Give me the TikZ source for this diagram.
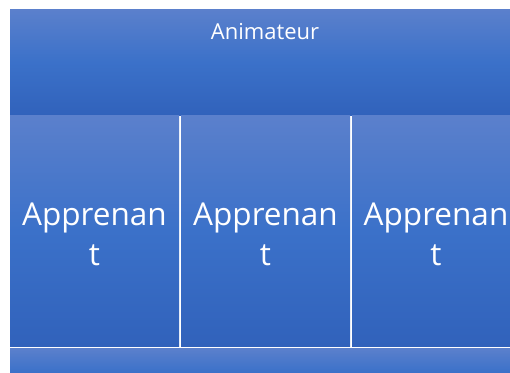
\documentclass[tikz,border=0pt]{standalone}
\usepackage{fontspec}
\setmainfont{Open Sans}
\definecolor{gtop}{HTML}{5B80CC}
\definecolor{gmid}{HTML}{3B71C9}
\definecolor{gbot}{HTML}{3162BB}
\tikzset{
  panel/.style={top color=gtop, bottom color=gbot, middle color=gmid, draw=none, shading=axis},
  lbl/.style={text=white, align=center, inner sep=0pt},
}
\begin{document}
\begin{tikzpicture}[x=1pt,y=1pt]
\useasboundingbox (0,0) rectangle (510,372);
\begin{scope}
\clip (0,0) rectangle (510,372);
\fill[white] (0,0) rectangle (510,372);
\node[panel, minimum width=510pt, minimum height=106pt, anchor=north west, inner sep=0pt] (top) at (10,363) {};
\node[panel, minimum width=169pt, minimum height=231pt, anchor=north west, inner sep=0pt] (c1) at (10,257) {};
\node[panel, minimum width=169pt, minimum height=231pt, anchor=north west, inner sep=0pt] (c2) at (181,257) {};
\node[panel, minimum width=168pt, minimum height=231pt, anchor=north west, inner sep=0pt] (c3) at (352,257) {};
\node[panel, minimum width=510pt, minimum height=48pt, anchor=north west, inner sep=0pt] (bot) at (10,24) {};
\end{scope}
\node[lbl, font=\fontsize{22}{26}\selectfont, anchor=base] (t) at (265,332) {Animateur};
\node[lbl, font=\fontsize{31.5}{40}\selectfont, anchor=base] (a1) at (94.5,107) {Apprenan\\t};
\node[lbl, font=\fontsize{31.5}{40}\selectfont, anchor=base] (a2) at (265.5,107) {Apprenan\\t};
\node[lbl, font=\fontsize{31.5}{40}\selectfont, anchor=base] (a3) at (436,107) {Apprenan\\t};
\end{tikzpicture}
\end{document}
